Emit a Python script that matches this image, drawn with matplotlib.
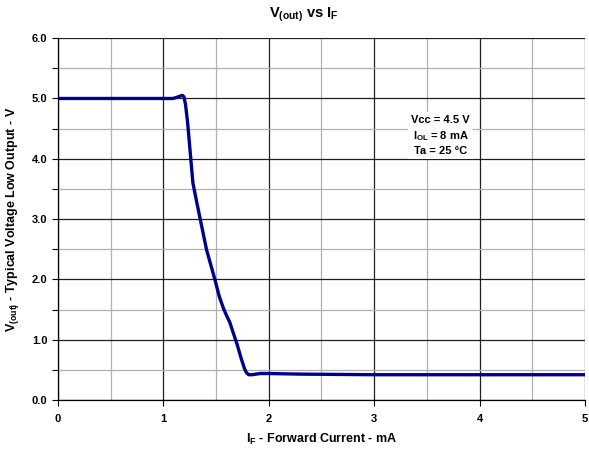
import matplotlib
matplotlib.use("Agg")
import matplotlib.pyplot as plt
from matplotlib.ticker import MultipleLocator, FormatStrFormatter

plt.rcParams['font.family'] = ['Liberation Sans', 'DejaVu Sans']
plt.rcParams['font.weight'] = 'bold'
plt.rcParams['mathtext.fontset'] = 'custom'
plt.rcParams['mathtext.rm'] = 'Liberation Sans:bold'
plt.rcParams['mathtext.it'] = 'Liberation Sans:bold'
plt.rcParams['mathtext.bf'] = 'Liberation Sans:bold'
plt.rcParams['mathtext.default'] = 'rm'

# Data
if_ma = [0, 0.5, 1.0, 1.09, 1.13, 1.16, 1.18, 1.195, 1.21, 1.23, 1.25, 1.28, 1.32,
         1.41, 1.49, 1.53, 1.57, 1.60, 1.63, 1.66, 1.70, 1.74, 1.77, 1.79, 1.81,
         1.84, 1.88, 1.92, 2.0, 2.3, 3.0, 4.0, 5.0]
vout = [5.0, 5.0, 5.0, 5.0, 5.02, 5.04, 5.05, 5.03, 4.9, 4.6, 4.2, 3.6, 3.25,
        2.49, 1.99, 1.72, 1.52, 1.40, 1.29, 1.13, 0.92, 0.68, 0.52, 0.45, 0.42,
        0.42, 0.43, 0.44, 0.44, 0.43, 0.42, 0.42, 0.42]
annot_lines = ["Vcc = 4.5 V", "I$_{OL}$ = 8 mA", "Ta = 25 °C"]

fig = plt.figure(figsize=(5.89, 4.49), dpi=100)
ax = fig.add_axes([0.0985, 0.109, 0.8945, 0.806])

ax.plot(if_ma, vout, color='#00008c', lw=2.4, solid_capstyle='round',
        solid_joinstyle='round', zorder=3)

ax.set_xlim(0, 5)
ax.set_ylim(0, 6)
ax.xaxis.set_major_locator(MultipleLocator(1))
ax.xaxis.set_minor_locator(MultipleLocator(0.5))
ax.yaxis.set_major_locator(MultipleLocator(1))
ax.yaxis.set_minor_locator(MultipleLocator(0.5))
ax.yaxis.set_major_formatter(FormatStrFormatter('%.1f'))
ax.grid(which='major', color='#202020', lw=0.9)
ax.grid(which='minor', color='#b0b0b0', lw=0.9)
ax.tick_params(which='both', direction='out', length=4, width=0.8, labelsize=8)
ax.tick_params(axis='x', which='minor', length=0)
ax.tick_params(axis='x', which='major', pad=6)
for s in ['top', 'right']:
    ax.spines[s].set_visible(False)
for s in ['left', 'bottom']:
    ax.spines[s].set_linewidth(0.9)

fig.text(0.515, 0.967, "V$_{(out)}$ vs I$_F$", fontsize=10.5, fontweight='bold',
         ha='center', va='center')
ax.set_xlabel("I$_F$ - Forward Current - mA", fontsize=9, fontweight='bold', labelpad=6)
ax.set_ylabel("V$_{(out)}$ - Typical Voltage Low Output - V", fontsize=9, fontweight='bold', labelpad=8)

ax.text(3.63, 4.73, "\n".join(annot_lines), ha='center', va='top', fontsize=8,
        fontweight='bold', linespacing=1.4,
        bbox=dict(facecolor='white', edgecolor='none', pad=2))

fig.savefig("out.png", dpi=100)
